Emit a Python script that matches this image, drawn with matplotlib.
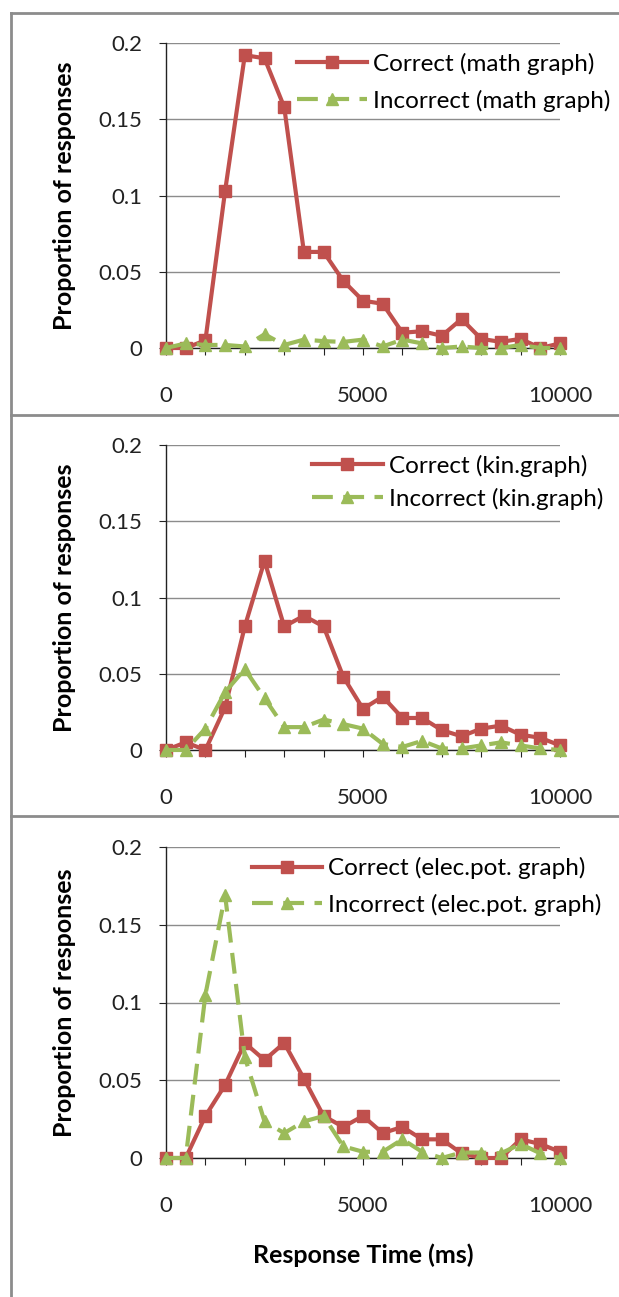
import numpy as np
import matplotlib.pyplot as plt
from matplotlib.lines import Line2D

plt.rcParams['font.family'] = ['Lato', 'DejaVu Sans']

# response time bins (ms)
rt = np.arange(0, 10001, 500)

correct_math = [0, 0, 0.005, 0.103, 0.192, 0.190, 0.158, 0.063, 0.063, 0.044, 0.031,
                0.029, 0.010, 0.011, 0.008, 0.019, 0.006, 0.004, 0.006, 0, 0.003]
incorrect_math = [0, 0.003, 0.002, 0.002, 0.001, 0.009, 0.002, 0.0055, 0.0045, 0.004, 0.0055,
                  0.001, 0.0055, 0.003, 0, 0.001, 0, 0, 0.002, 0, 0]

correct_kin = [0, 0.005, 0, 0.028, 0.081, 0.124, 0.081, 0.088, 0.081, 0.048, 0.027,
               0.035, 0.021, 0.021, 0.013, 0.009, 0.014, 0.016, 0.010, 0.008, 0.003]
incorrect_kin = [0, 0, 0.014, 0.038, 0.053, 0.034, 0.015, 0.015, 0.020, 0.017, 0.014,
                 0.004, 0.002, 0.006, 0.001, 0.001, 0.003, 0.005, 0.003, 0.001, 0]

correct_elec = [0, 0, 0.027, 0.047, 0.074, 0.063, 0.074, 0.051, 0.027, 0.020, 0.027,
                0.016, 0.020, 0.012, 0.012, 0.003, 0, 0, 0.012, 0.009, 0.004]
incorrect_elec = [0, 0, 0.105, 0.169, 0.065, 0.0235, 0.016, 0.0235, 0.027, 0.0075, 0.004,
                  0.004, 0.012, 0.004, 0, 0.0035, 0.0035, 0.003, 0.009, 0.003, 0]

labels_c = ['Correct (math graph)', 'Correct (kin.graph)', 'Correct (elec.pot. graph)']
labels_i = ['Incorrect (math graph)', 'Incorrect (kin.graph)', 'Incorrect (elec.pot. graph)']

red = '#C0504D'
green = '#9BBB59'
W, H = 619, 1297

fig = plt.figure(figsize=(W / 100, H / 100), dpi=100)

# axes boxes in pixels: (top, bottom) ; x from 166 to 560
boxes = [(43, 348), (445, 750), (847, 1158)]
leg_x = [0.332, 0.371, 0.218]
leg_sp = [0.6, 0.45, 0.6]
data = [(correct_math, incorrect_math), (correct_kin, incorrect_kin), (correct_elec, incorrect_elec)]

for k, (top, bot) in enumerate(boxes):
    ax = fig.add_axes([166 / W, 1 - bot / H, (560 - 166) / W, (bot - top) / H])
    c, inc = data[k]
    ax.plot(rt, c, color=red, lw=3.0, marker='s', ms=8, label=labels_c[k], zorder=3, clip_on=False)
    ax.plot(rt, inc, color=green, lw=3.0, marker='^', ms=8, dashes=(5, 2.5),
            label=labels_i[k], zorder=4, clip_on=False)
    ax.set_xlim(0, 10000)
    ax.set_ylim(0, 0.2)
    ax.set_yticks([0, 0.05, 0.1, 0.15, 0.2])
    ax.set_yticklabels(['0', '0.05', '0.1', '0.15', '0.2'])
    ax.set_xticks(np.arange(0, 10001, 1000))
    ax.set_xticklabels(['0', '', '', '', '', '5000', '', '', '', '', '10000'])
    ax.grid(axis='y', color='#8c8c8c', lw=1.0)
    ax.set_axisbelow(True)
    for s in ['top', 'right']:
        ax.spines[s].set_visible(False)
    for s in ['left', 'bottom']:
        ax.spines[s].set_color('#222222')
        ax.spines[s].set_linewidth(1.0)
    ax.tick_params(axis='x', length=5, pad=22, labelsize=16, colors='#222222')
    ax.tick_params(axis='y', length=5, pad=12, labelsize=16, colors='#222222')
    ax.set_ylabel('Proportion of responses', fontsize=18, fontweight='bold', labelpad=16)
    ax.legend(loc='upper left', bbox_to_anchor=(leg_x[k], 0.968), frameon=False,
              fontsize=17.5, handlelength=2.9, handletextpad=0.25, borderpad=0,
              borderaxespad=0, labelspacing=leg_sp[k])
    if k == 2:
        ax.set_xlabel('Response Time (ms)', fontsize=18, fontweight='bold', labelpad=20)

# panel borders
bc = '#8c8c8c'
fig.add_artist(Line2D([11 / W, 11 / W], [0, 1 - 13 / H], color=bc, lw=2, transform=fig.transFigure))
for yy in [13, 415, 816]:
    fig.add_artist(Line2D([11 / W, 1], [1 - yy / H, 1 - yy / H], color=bc, lw=2,
                          transform=fig.transFigure))

fig.savefig('out.png', dpi=100)
